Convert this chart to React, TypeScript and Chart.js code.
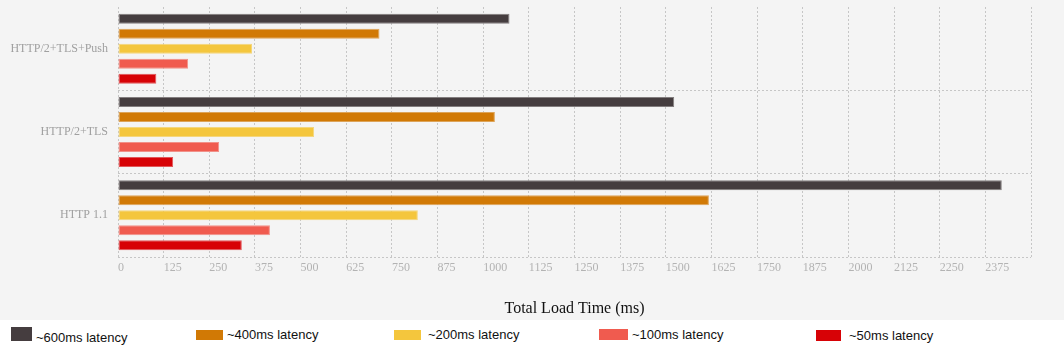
import React, { useEffect, useRef } from "react";
import { Chart, registerables } from "chart.js";

Chart.register(...registerables);

const categories = ["HTTP/2+TLS+Push", "HTTP/2+TLS", "HTTP 1.1"];
const seriesNames = ["~600ms latency", "~400ms latency", "~200ms latency", "~100ms latency", "~50ms latency"];
const latency600 = [1072, 1523, 2420];
const latency400 = [716, 1032, 1618];
const latency200 = [367, 537, 821];
const latency100 = [192, 277, 416];
const latency50 = [105, 151, 339];
const seriesColors = ["#453d3f", "#d17905", "#f4c63d", "#f05b4f", "#d70206"];
const xMin = 0;
const xMax = 2500;
const xStep = 125;

const seriesValues = [latency600, latency400, latency200, latency100, latency50];

// legend layout (positions only)
const legendBoxLeft = [11, 196, 394, 599, 816];
const legendBoxWidth = [21, 27, 27, 29, 25];
const legendBoxTop = [7, 10, 10, 9, 10];
const legendBoxHeight = [14, 10, 10, 11, 11];
const legendTextLeft = [36, 227, 428, 632, 849];
const legendTextTop = [10, 7, 7, 7, 8];

function tint(hex: string, amt: number): string {
  const n = parseInt(hex.slice(1), 16);
  const r = (n >> 16) & 255, g = (n >> 8) & 255, b = n & 255;
  const m = (c: number) => Math.round(c + (244 - c) * amt);
  return `rgb(${m(r)},${m(g)},${m(b)})`;
}

export default function App() {
  const ref = useRef<HTMLCanvasElement | null>(null);

  useEffect(() => {
    if (!ref.current) return;
    const chart = new Chart(ref.current, {
      type: "bar",
      data: {
        labels: categories,
        datasets: seriesValues.map((vals, i) => ({
          label: seriesNames[i],
          data: vals,
          backgroundColor: seriesColors[i],
          borderColor: tint(seriesColors[i], 0.35),
          borderWidth: 1,
          borderSkipped: false,
          categoryPercentage: 0.9,
          barPercentage: 0.667,
        })),
      },
      options: {
        indexAxis: "y",
        responsive: false,
        animation: false,
        events: [],
        layout: { padding: { top: 7, right: 33, left: 0, bottom: 0 } },
        plugins: {
          legend: { display: false },
          tooltip: { enabled: false },
        },
        scales: {
          x: {
            type: "linear",
            min: xMin,
            max: xMax,
            afterFit: (s: any) => {
              s.height = 63;
              s.paddingLeft = 0;
              s.paddingRight = 0;
            },
            afterBuildTicks: (s: any) => {
              const t = [];
              for (let v = xMin; v <= xMax; v += xStep) t.push({ value: v });
              s.ticks = t;
            },
            ticks: {
              stepSize: xStep,
              align: "start",
              padding: 4,
              color: "#b3b3b3",
              font: { family: "'Liberation Serif', serif", size: 12 },
              callback: (v: any) => (Number(v) >= xMax ? "" : String(v)),
              maxRotation: 0,
              autoSkip: false,
            },
            grid: { color: "#c6c6c6", lineWidth: 1, drawTicks: false },
            border: { display: false, dash: [2, 2] },
            title: {
              display: true,
              text: "Total Load Time (ms)",
              color: "#111",
              font: { family: "'Liberation Serif', serif", size: 16 },
              padding: { top: 0, bottom: 2 },
            },
          },
          y: {
            afterFit: (s: any) => {
              s.width = 118;
              s.paddingTop = 0;
              s.paddingBottom = 0;
            },
            ticks: {
              padding: 10,
              color: "#a0a0a0",
              font: { family: "'Liberation Serif', serif", size: 12 },
            },
            grid: {
              color: (ctx: any) => (ctx.index === 0 ? "rgba(0,0,0,0)" : "#c6c6c6"),
              lineWidth: 1,
              drawTicks: false,
              offset: true,
            },
            border: { display: false, dash: [2, 2] },
          },
        },
      },
    });
    return () => chart.destroy();
  }, []);

  return (
    <div style={{ width: 1064, height: 360, background: "#fff", position: "relative" }}>
      <style>{`body{margin:0;}`}</style>
      <div style={{ width: 1064, height: 320, background: "#f4f4f4" }}>
        <canvas ref={ref} width={1064} height={320} style={{ display: "block" }} />
      </div>
      <div style={{ position: "relative", width: 1064, height: 40, background: "#fff" }}>
        {seriesNames.map((name, i) => (
          <React.Fragment key={name}>
            <div
              style={{
                position: "absolute",
                left: legendBoxLeft[i],
                top: legendBoxTop[i],
                width: legendBoxWidth[i],
                height: legendBoxHeight[i],
                background: seriesColors[i],
              }}
            />
            <div
              style={{
                position: "absolute",
                left: legendTextLeft[i],
                top: legendTextTop[i],
                fontFamily: "'Liberation Sans', Arial, sans-serif",
                fontSize: 13,
                lineHeight: "16px",
                color: "#111",
                whiteSpace: "nowrap",
              }}
            >
              {name}
            </div>
          </React.Fragment>
        ))}
      </div>
    </div>
  );
}
